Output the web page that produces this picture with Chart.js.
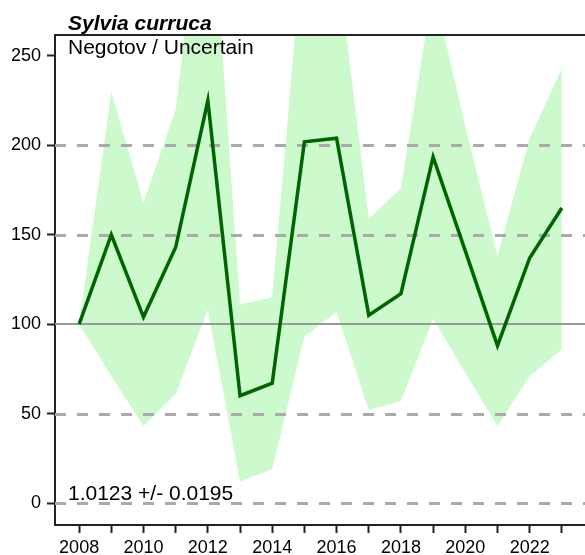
<!DOCTYPE html>
<html>
<head>
<meta charset="utf-8">
<script src="https://cdn.jsdelivr.net/npm/chart.js@4.4.0/dist/chart.umd.min.js"></script>
<style>
  html, body { margin: 0; padding: 0; background: #fff; }
  #wrap { width: 585px; height: 555px; }
</style>
</head>
<body>
<div id="wrap"><canvas id="trendChart" width="585" height="555"></canvas></div>
<script>
// yearly index with confidence band
const years = [2008, 2009, 2010, 2011, 2012, 2013, 2014, 2015, 2016, 2017, 2018, 2019, 2020, 2021, 2022, 2023];
const yearLabels = [2008, 2010, 2012, 2014, 2016, 2018, 2020, 2022];
const indexValues = [100, 150, 104, 143, 225, 60, 67, 202, 204, 105, 117, 193.5, 141, 88, 137, 165];
const upperValues = [100, 230, 168, 220, 370, 111, 115, 322, 307, 159, 176, 288, 211, 138, 204, 243];
const lowerValues = [100, 71, 43, 61, 108, 12, 19, 93, 107, 52, 57, 103, 73, 43, 71, 86];
const yTicks = [0, 50, 100, 150, 200, 250];
const dashedLevels = [0, 50, 150, 200];
const baseLevel = 100;

const speciesName = "Sylvia curruca";
const siteLabel = "Negotov / Uncertain";
const trendLabel = "1.0123 +/- 0.0195";

const FONT = "'Liberation Sans', Arial, sans-serif";
const toPoints = (vals) => years.map((yr, i) => ({ x: yr, y: vals[i] }));

// grid lines sit above the band but under the index line
const refLines = {
  id: 'refLines',
  beforeDatasetDraw(chart, args) {
    if (args.index !== 0) return;
    const { ctx, chartArea, scales: { y } } = chart;
    ctx.save();
    ctx.beginPath();
    ctx.rect(chartArea.left, chartArea.top, chartArea.right - chartArea.left, chartArea.bottom - chartArea.top);
    ctx.clip();
    ctx.strokeStyle = '#aaaaaa';
    ctx.lineWidth = 3;
    ctx.setLineDash([11, 11]);
    dashedLevels.forEach(v => {
      const py = Math.round(y.getPixelForValue(v)) + 0.5;
      ctx.beginPath();
      ctx.moveTo(chartArea.left, py);
      ctx.lineTo(chartArea.right, py);
      ctx.stroke();
    });
    ctx.setLineDash([]);
    ctx.strokeStyle = '#999999';
    ctx.lineWidth = 2;
    const pb = Math.round(y.getPixelForValue(baseLevel));
    ctx.beginPath();
    ctx.moveTo(chartArea.left, pb);
    ctx.lineTo(chartArea.right, pb);
    ctx.stroke();
    ctx.restore();
  },
  afterDraw(chart) {
    const { ctx, chartArea } = chart;
    ctx.save();
    // top frame line
    ctx.strokeStyle = '#222';
    ctx.lineWidth = 2;
    ctx.beginPath();
    ctx.moveTo(chartArea.left - 1, chartArea.top);
    ctx.lineTo(chartArea.right, chartArea.top);
    ctx.stroke();

    ctx.fillStyle = '#000';
    ctx.textAlign = 'left';
    ctx.textBaseline = 'alphabetic';
    ctx.font = "italic bold 21px " + FONT;
    ctx.fillText(speciesName, 68, 30);
    ctx.font = "21px " + FONT;
    ctx.fillText(siteLabel, 68, 54);
    ctx.fillText(trendLabel, 68, 500);
    ctx.restore();
  }
};

new Chart(document.getElementById('trendChart'), {
  type: 'line',
  data: {
    datasets: [
      {
        label: 'Index',
        data: toPoints(indexValues),
        borderColor: '#006400',
        borderWidth: 3.5,
        borderJoinStyle: 'miter',
        pointRadius: 0,
        fill: false,
        tension: 0
      },
      {
        label: 'Upper',
        data: toPoints(upperValues),
        borderWidth: 0,
        borderColor: 'rgba(0,0,0,0)',
        backgroundColor: 'rgb(204, 250, 204)',
        pointRadius: 0,
        fill: '+1',
        tension: 0
      },
      {
        label: 'Lower',
        data: toPoints(lowerValues),
        borderWidth: 0,
        borderColor: 'rgba(0,0,0,0)',
        pointRadius: 0,
        fill: false,
        tension: 0
      }
    ]
  },
  options: {
    responsive: false,
    animation: false,
    devicePixelRatio: 1,
    layout: { padding: { top: 35, right: 0, bottom: 0, left: 0 } },
    plugins: {
      legend: { display: false },
      tooltip: { enabled: false }
    },
    scales: {
      x: {
        type: 'linear',
        min: 2007.25,
        max: 2023.72,
        afterBuildTicks: (scale) => { scale.ticks = years.map(v => ({ value: v })); },
        afterFit: (scale) => { scale.height = 30; },
        border: { display: true, color: '#222', width: 2 },
        grid: { drawOnChartArea: false, drawTicks: true, tickLength: 8, tickColor: '#222', tickWidth: 2 },
        ticks: {
          autoSkip: false,
          maxRotation: 0,
          padding: 4,
          color: '#000',
          font: { family: FONT, size: 18 },
          callback: (v) => yearLabels.includes(v) ? String(v) : ''
        }
      },
      y: {
        type: 'linear',
        min: -12.3,
        max: 261.7,
        afterBuildTicks: (scale) => { scale.ticks = yTicks.map(v => ({ value: v })); },
        afterFit: (scale) => { scale.width = 55; },
        border: { display: true, color: '#222', width: 2 },
        grid: { drawOnChartArea: false, drawTicks: true, tickLength: 8, tickColor: '#222', tickWidth: 2 },
        ticks: {
          padding: 6,
          color: '#000',
          font: { family: FONT, size: 18 }
        }
      }
    }
  },
  plugins: [refLines]
});
</script>
</body>
</html>
